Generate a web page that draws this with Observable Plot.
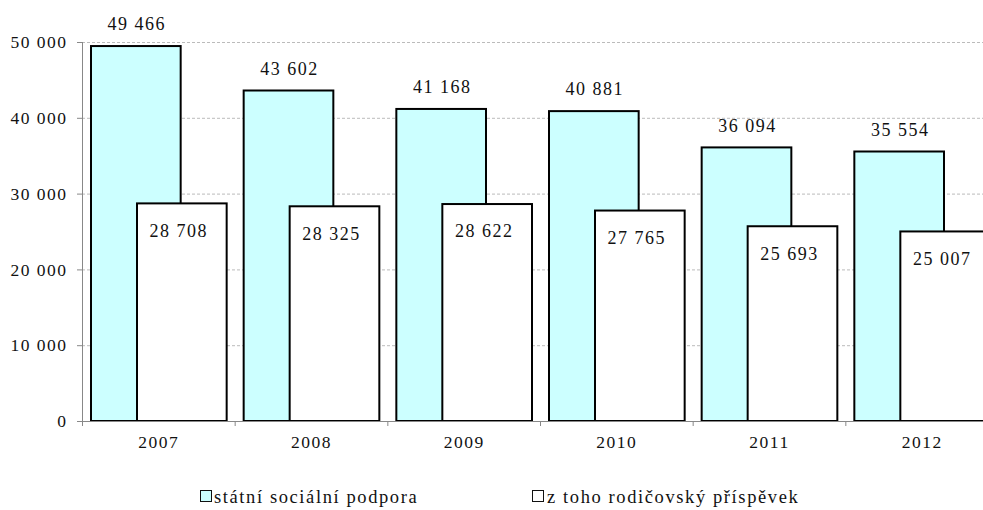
<!DOCTYPE html>
<html>
<head>
<meta charset="utf-8">
<script src="https://cdn.jsdelivr.net/npm/d3@7"></script>
<script src="https://cdn.jsdelivr.net/npm/@observablehq/plot@0.6"></script>
<style>
  html, body { margin: 0; padding: 0; background: white; overflow: hidden; }
  #legend { position: relative; width: 983px; height: 50px; font-family: "Liberation Serif", "Times New Roman", serif; font-size: 18.5px; letter-spacing: 1.6px; color: #111; }
  .sw { position: absolute; width: 10px; height: 10px; border: 1.5px solid #111; top: 30px; }
  .lt { position: absolute; top: 25px; line-height: 24px; white-space: nowrap; }
  svg text { font-family: "Liberation Serif", "Times New Roman", serif; }
</style>
</head>
<body>
<div id="chart"></div>
<div id="legend"></div>
<script>
const years = [2007, 2008, 2009, 2010, 2011, 2012];
const statni = [49466, 43602, 41168, 40881, 36094, 35554];
const rodic = [28708, 28325, 28622, 27765, 25693, 25007];
const yTicks = [0, 10000, 20000, 30000, 40000, 50000];
const seriesNames = ["státní sociální podpora", "z toho rodičovský příspěvek"];
const seriesColors = ["#ccffff", "#ffffff"];

const data = years.map((year, i) => ({year, statni: statni[i], rodic: rodic[i]}));
const boundaries = [...years.map(y => y - 0.5), years[years.length - 1] + 0.5];
const fmt = v => d3.format(",")(v).replace(/,/g, " ");
const serif = '"Liberation Serif", "Times New Roman", serif';

const chart = Plot.plot({
  width: 983,
  height: 460,
  marginLeft: 82,
  marginRight: -15,
  marginTop: 42,
  marginBottom: 39,
  x: {type: "linear", domain: [years[0] - 0.5, years[years.length - 1] + 0.5], label: null},
  y: {domain: [0, 50000], label: null},
  style: {fontFamily: serif, fontSize: "18px", letterSpacing: "1.5px", overflow: "hidden", background: "white", color: "#111"},
  marks: [
    Plot.gridY(yTicks, {stroke: "#aaa", strokeOpacity: 1, strokeDasharray: "3,2", strokeWidth: 0.8}),
    Plot.rect(data, {x1: d => d.year - 0.5, x2: d => d.year + 0.5, y1: 0, y2: "statni", fill: seriesColors[0], stroke: "#000", strokeWidth: 2, insetLeft: 9, insetRight: 54}),
    Plot.rect(data, {x1: d => d.year - 0.5, x2: d => d.year + 0.5, y1: 0, y2: "rodic", fill: seriesColors[1], stroke: "#000", strokeWidth: 2, insetLeft: 55, insetRight: 8}),
    Plot.ruleX([years[0] - 0.5], {stroke: "#888", strokeWidth: 1}),
    Plot.ruleY([0], {stroke: "#888", strokeWidth: 1}),
    Plot.axisY(yTicks, {tickSize: 5, tickPadding: 10, tickFormat: fmt, stroke: "#888", fill: "#111", fontSize: 17.5, label: null}),
    Plot.axisX(years, {tickSize: 0, tickPadding: 14, tickFormat: d => String(d), fill: "#111", fontSize: 17.5, label: null}),
    Plot.axisX(boundaries, {tickSize: 5, tickFormat: () => "", stroke: "#888", label: null}),
    Plot.text(data, {x: "year", y: "statni", text: d => fmt(d.statni), dx: -22, dy: -22, fontSize: 18, fill: "#111"}),
    Plot.text(data, {x: "year", y: "rodic", text: d => fmt(d.rodic), dx: 20, dy: 27, fontSize: 18, fill: "#111"})
  ]
});
document.getElementById("chart").appendChild(chart);

const legend = document.getElementById("legend");
const legendPos = [[200, 214], [532, 547]];
seriesNames.forEach((name, i) => {
  const sw = document.createElement("div");
  sw.className = "sw";
  sw.style.left = legendPos[i][0] + "px";
  sw.style.background = seriesColors[i];
  legend.appendChild(sw);
  const t = document.createElement("div");
  t.className = "lt";
  t.style.left = legendPos[i][1] + "px";
  t.textContent = name;
  legend.appendChild(t);
});
</script>
</body>
</html>
